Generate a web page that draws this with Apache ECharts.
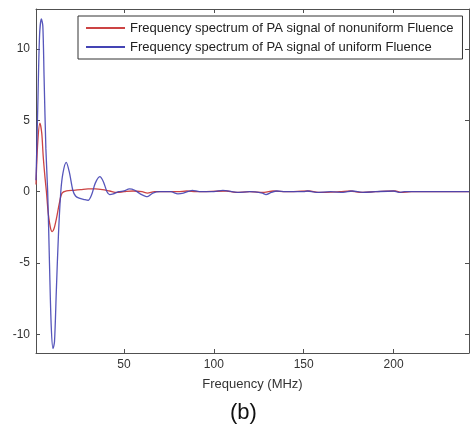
<!DOCTYPE html>
<html><head><meta charset="utf-8">
<script src="https://cdn.jsdelivr.net/npm/echarts@6/dist/echarts.min.js"></script>
<style>html,body{margin:0;padding:0;background:#fff}#c{width:470px;height:428px}</style>
</head><body><div id="c"></div>
<script>
var xTicks = [50, 100, 150, 200];
var yTicks = [-10, -5, 0, 5, 10];
var seriesNames = ['Frequency spectrum of PA signal of nonuniform Fluence', 'Frequency spectrum of PA signal of uniform Fluence'];
var redData = [[1,0.5],[2,3.5],[3.2,4.8],[4.2,4.1],[5,2.5],[6,1],[6.8,0],[7.8,-1.5],[9,-2.5],[10,-2.8],[11,-2.6],[12.5,-1.8],[14,-0.8],[15.5,-0.1],[18,0.05],[22,0.1],[26,0.15],[30,0.2],[34,0.2],[38,0.15],[42,0.05],[46,-0.05],[50,0],[55,0.05],[60,0],[63,-0.1],[67,0],[80,0],[85,0.05],[90,0],[107,0.05],[112,-0.05],[120,0],[128,-0.05],[133,0.05],[140,0],[153,0.05],[158,-0.05],[170,0],[176,0.05],[181,-0.05],[190,0],[201,0.05],[204,-0.05],[210,0],[242,0]];
var blueData = [[1,0.8],[2,6],[3,11],[4,12.1],[4.8,11.6],[5.5,8],[6.5,3],[7.5,0],[8.5,-5],[9.5,-9.5],[10.5,-11.0],[11.3,-10.5],[12.3,-7],[13.5,-3],[14.8,0],[16,1.3],[17.8,2.05],[19.5,1.4],[21.5,0.1],[23,-0.3],[25,-0.45],[28,-0.55],[30,-0.6],[32,-0.2],[34,0.6],[36.5,1.05],[38.5,0.7],[40.5,0.0],[42,-0.2],[44,-0.15],[47,0.0],[50,0.05],[53,0.2],[56,0.1],[59,-0.15],[63,-0.35],[66,-0.1],[70,0.0],[76,0.0],[80,-0.15],[83,-0.1],[88,0.1],[92,0.0],[100,0.0],[105,0.1],[110,0.0],[113,-0.05],[120,0],[127,-0.1],[129,-0.2],[132,-0.05],[135,0.05],[140,0],[150,0],[152,0.05],[157,-0.05],[165,0],[172,-0.05],[177,0.05],[183,-0.05],[190,0],[200,0.05],[203,-0.05],[206,0],[242,0]];

var FONT = 'Liberation Sans';
var axisCol = '#505050';
function xa(pos, show) {
  return {type:'value', position:pos, min:1, max:242,
    axisLine:{show:true, onZero:false, lineStyle:{color:axisCol, width:1}},
    axisTick:{show:true, inside:true, length:4, customValues:xTicks, lineStyle:{color:axisCol}},
    axisLabel:{show:show, customValues:xTicks, color:'#333', fontFamily:FONT, fontSize:12, margin:6},
    splitLine:{show:false},
    name: show ? 'Frequency (MHz)' : '', nameLocation:'middle', nameGap:25,
    nameTextStyle:{color:'#333', fontFamily:FONT, fontSize:13}};
}
function ya(pos, show) {
  return {type:'value', position:pos, min:-11.3, max:12.8,
    axisLine:{show:true, onZero:false, lineStyle:{color:axisCol, width:1}},
    axisTick:{show:true, inside:true, length:4, customValues:yTicks, lineStyle:{color:axisCol}},
    axisLabel:{show:show, customValues:yTicks, color:'#333', fontFamily:FONT, fontSize:12, margin:6},
    splitLine:{show:false}};
}
var chart = echarts.init(document.getElementById('c'), null, {renderer:'canvas'});
chart.setOption({
  animation:false,
  backgroundColor:'#fff',
  grid:{left:36, top:9, right:1, bottom:75},
  title:{text:'(b)', left:230, top:402, padding:0, textStyle:{fontFamily:FONT, fontSize:22, fontWeight:'normal', color:'#111'}},
  legend:{orient:'vertical', left:78, top:16, padding:[5,9,5,8], itemWidth:39, itemHeight:2, itemGap:5, icon:'rect',
    borderColor:'#333', borderWidth:1, backgroundColor:'#fff',
    textStyle:{fontFamily:FONT, fontSize:13, lineHeight:14, color:'#222', padding:[0,0,0,0]},
    data:seriesNames},
  xAxis:[xa('bottom', true), xa('top', false)],
  yAxis:[ya('left', true), ya('right', false)],
  series:[
    {name:seriesNames[0], type:'line', data:redData, symbol:'none', smooth:0.3, lineStyle:{color:'#cc4444', width:1.3}, itemStyle:{color:'#cc4444'}},
    {name:seriesNames[1], type:'line', data:blueData, symbol:'none', smooth:0.3, lineStyle:{color:'#4444b4', width:1.3, opacity:0.9}, itemStyle:{color:'#4444b4'}}
  ]
});
</script></body></html>
